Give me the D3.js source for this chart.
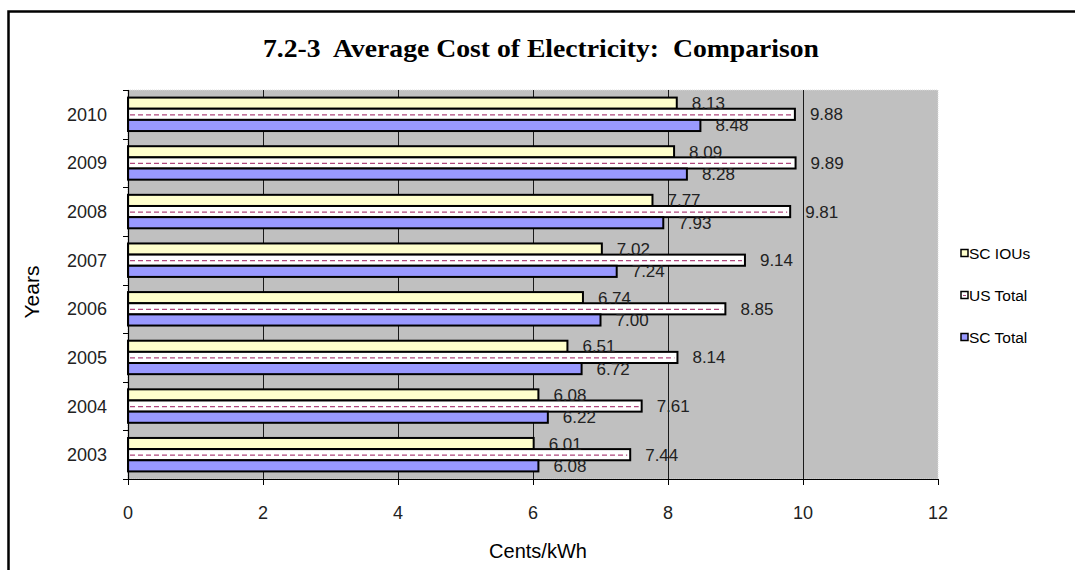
<!DOCTYPE html>
<html>
<head>
<meta charset="utf-8">
<script src="https://cdn.jsdelivr.net/npm/d3@7"></script>
<style>
  html, body { margin: 0; padding: 0; background: #fff; }
  svg { display: block; }
</style>
</head>
<body>
<svg id="chart" width="1075" height="570"></svg>
<script>
// Average cost of electricity (cents/kWh), 2003-2010
const years   = ["2003", "2004", "2005", "2006", "2007", "2008", "2009", "2010"];
const scIOUs  = [6.01, 6.08, 6.51, 6.74, 7.02, 7.77, 8.09, 8.13];
const usTotal = [7.44, 7.61, 8.14, 8.85, 9.14, 9.81, 9.89, 9.88];
const scTotal = [6.08, 6.22, 6.72, 7.00, 7.24, 7.93, 8.28, 8.48];
const seriesNames = ["SC IOUs", "US Total", "SC Total"];
const xTicks = [0, 2, 4, 6, 8, 10, 12];

const seriesValues = { "SC IOUs": scIOUs, "US Total": usTotal, "SC Total": scTotal };
const fills = { "SC IOUs": "#FFFFCC", "US Total": "#FFFFFF", "SC Total": "#9999FF" };

const svg = d3.select("#chart");
const plot = { left: 128, right: 938, top: 90, bottom: 479 };
const sans = "'Liberation Sans', Arial, sans-serif";

// Outer chart frame
svg.append("rect")
  .attr("x", 8.5).attr("y", 11.5).attr("width", 1100).attr("height", 600)
  .attr("fill", "none").attr("stroke", "#000").attr("stroke-width", 2.5);

// Title
svg.append("text")
  .attr("x", 541).attr("y", 57)
  .attr("text-anchor", "middle")
  .attr("font-family", "'Liberation Serif', 'Times New Roman', serif")
  .attr("font-weight", "bold")
  .attr("font-size", 25)
  .attr("textLength", 556)
  .attr("lengthAdjust", "spacingAndGlyphs")
  .attr("fill", "#000")
  .attr("xml:space", "preserve")
  .text("7.2-3  Average Cost of Electricity:  Comparison");

// Scales
const x = d3.scaleLinear().domain([0, 12]).range([plot.left, plot.right]);
const y0 = d3.scaleBand().domain(years.slice().reverse()).range([plot.top, plot.bottom]).padding(0);
const y1 = d3.scaleBand().domain(seriesNames).range([0, y0.bandwidth()]).paddingInner(0).paddingOuter(0.68);

// Plot background
svg.append("rect")
  .attr("x", plot.left).attr("y", plot.top)
  .attr("width", plot.right - plot.left).attr("height", plot.bottom - plot.top)
  .attr("fill", "#C0C0C0")
  .attr("stroke", "#dcdcdc").attr("stroke-width", 1).attr("stroke-dasharray", "1,1");

// Vertical gridlines
svg.append("g").selectAll("line")
  .data(xTicks.filter(t => t > 0 && t < 12))
  .join("line")
  .attr("x1", d => Math.round(x(d)) + 0.5).attr("x2", d => Math.round(x(d)) + 0.5)
  .attr("y1", plot.top).attr("y2", plot.bottom)
  .attr("stroke", "#1a1a1a").attr("stroke-width", 1);

// Bars
const rows = years.map((yr, i) => ({
  year: yr,
  items: seriesNames.map(s => ({ year: yr, series: s, value: seriesValues[s][i] }))
}));

const groups = svg.append("g").selectAll("g")
  .data(rows)
  .join("g")
  .attr("transform", d => `translate(0,${y0(d.year)})`);

groups.selectAll("rect")
  .data(d => d.items)
  .join("rect")
  .attr("x", x(0))
  .attr("y", d => y1(d.series))
  .attr("width", d => x(d.value) - x(0))
  .attr("height", y1.bandwidth())
  .attr("fill", d => fills[d.series])
  .attr("stroke", "#000")
  .attr("stroke-width", 2);

// Dashed pattern line inside the US Total bars
groups.selectAll("line.dash")
  .data(d => d.items.filter(it => it.series === "US Total"))
  .join("line")
  .attr("class", "dash")
  .attr("x1", x(0) + 2)
  .attr("x2", d => x(d.value) - 3)
  .attr("y1", d => y1(d.series) + y1.bandwidth() / 2 + 0.5)
  .attr("y2", d => y1(d.series) + y1.bandwidth() / 2 + 0.5)
  .attr("stroke", "#B0487E")
  .attr("stroke-width", 1.3)
  .attr("stroke-dasharray", "5,3");

// Value labels
groups.selectAll("text.val")
  .data(d => d.items)
  .join("text")
  .attr("class", "val")
  .attr("x", d => x(d.value) + 15)
  .attr("y", d => y1(d.series) + y1.bandwidth() / 2 + 6)
  .attr("font-family", sans)
  .attr("font-size", 17)
  .attr("fill", "#222")
  .text(d => d.value.toFixed(2));

// Category axis (left)
svg.append("line")
  .attr("x1", plot.left + 0.5).attr("x2", plot.left + 0.5)
  .attr("y1", plot.top).attr("y2", plot.bottom)
  .attr("stroke", "#000").attr("stroke-width", 1.2);

const boundaries = years.map(yr => y0(yr)).concat([plot.bottom]);
svg.append("g").selectAll("line")
  .data(boundaries)
  .join("line")
  .attr("x1", plot.left - 5).attr("x2", plot.left)
  .attr("y1", d => Math.round(d) + 0.5).attr("y2", d => Math.round(d) + 0.5)
  .attr("stroke", "#000").attr("stroke-width", 1);

svg.append("g").selectAll("text")
  .data(years)
  .join("text")
  .attr("x", 107)
  .attr("y", d => y0(d) + y0.bandwidth() / 2 + 6.5)
  .attr("text-anchor", "end")
  .attr("font-family", sans)
  .attr("font-size", 18)
  .attr("fill", "#222")
  .text(d => d);

// Value axis (bottom)
svg.append("line")
  .attr("x1", plot.left).attr("x2", plot.right)
  .attr("y1", plot.bottom + 0.5).attr("y2", plot.bottom + 0.5)
  .attr("stroke", "#000").attr("stroke-width", 1.2);

svg.append("g").selectAll("line")
  .data(xTicks)
  .join("line")
  .attr("x1", d => Math.round(x(d)) + 0.5).attr("x2", d => Math.round(x(d)) + 0.5)
  .attr("y1", plot.bottom).attr("y2", plot.bottom + 6)
  .attr("stroke", "#000").attr("stroke-width", 1);

svg.append("g").selectAll("text")
  .data(xTicks)
  .join("text")
  .attr("x", d => x(d))
  .attr("y", 519)
  .attr("text-anchor", "middle")
  .attr("font-family", sans)
  .attr("font-size", 18)
  .attr("fill", "#222")
  .text(d => d);

// Axis titles
svg.append("text")
  .attr("x", 538).attr("y", 558)
  .attr("text-anchor", "middle")
  .attr("font-family", sans)
  .attr("font-size", 20)
  .attr("fill", "#000")
  .text("Cents/kWh");

svg.append("text")
  .attr("transform", "translate(39,292) rotate(-90)")
  .attr("text-anchor", "middle")
  .attr("font-family", sans)
  .attr("font-size", 21)
  .attr("fill", "#000")
  .text("Years");

// Legend
const legendY = { "SC IOUs": 253, "US Total": 295, "SC Total": 337 };
const legend = svg.append("g").selectAll("g")
  .data(seriesNames)
  .join("g")
  .attr("transform", d => `translate(961,${legendY[d]})`);

legend.append("rect")
  .attr("x", 0).attr("y", -3.5).attr("width", 7).attr("height", 7)
  .attr("fill", d => fills[d])
  .attr("stroke", "#000").attr("stroke-width", 1.5);

legend.filter(d => d === "US Total").append("line")
  .attr("x1", 2).attr("x2", 5).attr("y1", 0.5).attr("y2", 0.5)
  .attr("stroke", "#B0487E").attr("stroke-width", 1);

legend.append("text")
  .attr("x", 8).attr("y", 5.5)
  .attr("font-family", sans)
  .attr("font-size", 15.5)
  .attr("fill", "#000")
  .text(d => d);
</script>
</body>
</html>
